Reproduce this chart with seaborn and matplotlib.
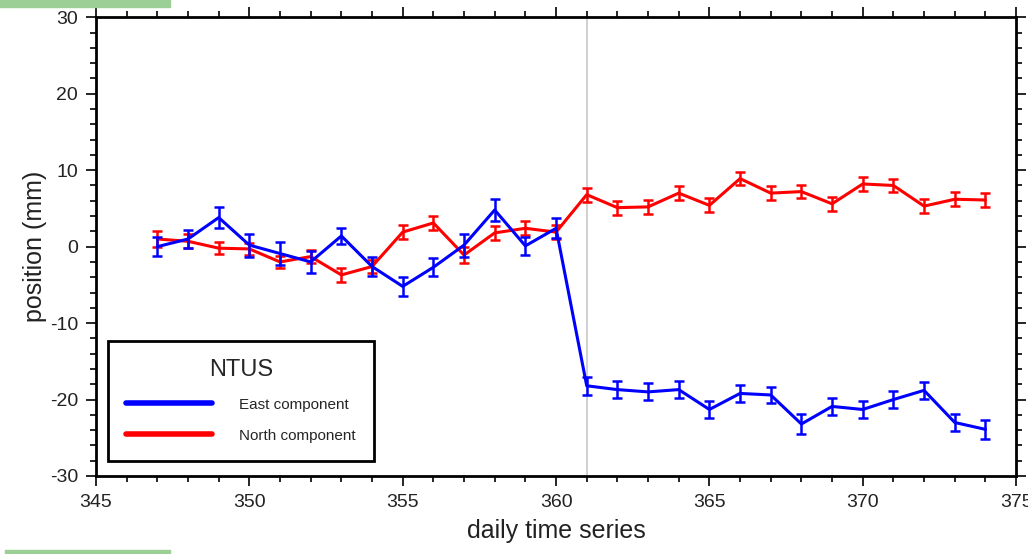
import numpy as np
import pandas as pd
import seaborn as sns
import matplotlib.pyplot as plt
from matplotlib.ticker import MultipleLocator
from matplotlib.patches import Rectangle

sns.set_style("ticks")
plt.rcParams['font.family'] = ['Liberation Sans', 'DejaVu Sans']
plt.rcParams['axes.unicode_minus'] = False

# daily positions of station NTUS (mm)
days = list(range(347, 375))
east = [0.0, 1.0, 3.8, 0.2, -0.9, -2.0, 1.4, -2.6, -5.2, -2.7, 0.2, 4.8, 0.1, 2.4,
        -18.2, -18.7, -19.0, -18.7, -21.3, -19.2, -19.4, -23.2, -20.9, -21.3, -20.0, -18.8, -23.0, -23.9]
east_err = [1.2, 1.2, 1.4, 1.5, 1.5, 1.4, 1.0, 1.2, 1.2, 1.2, 1.5, 1.4, 1.2, 1.3,
            1.2, 1.1, 1.1, 1.1, 1.1, 1.1, 1.1, 1.3, 1.1, 1.1, 1.1, 1.1, 1.1, 1.2]
north = [1.0, 0.7, -0.2, -0.3, -2.0, -1.3, -3.7, -2.6, 1.9, 3.1, -1.1, 1.8, 2.4, 1.9,
         6.8, 5.1, 5.2, 7.0, 5.4, 8.9, 7.0, 7.2, 5.6, 8.2, 8.0, 5.3, 6.2, 6.1]
north_err = [1.0, 0.9, 0.8, 0.8, 0.8, 0.9, 0.9, 0.9, 0.9, 0.9, 1.0, 0.9, 0.9, 0.9,
             0.9, 0.9, 0.9, 0.9, 0.9, 0.9, 0.9, 0.9, 0.9, 0.9, 0.9, 0.9, 0.9, 0.9]
event_day = 361

df = pd.DataFrame({"day": days, "east": east, "east_err": east_err,
                   "north": north, "north_err": north_err})

fig = plt.figure(figsize=(10.28, 5.54), dpi=100)
ax = fig.add_axes([0.0934, 0.1408, 0.895, 0.828])

ax.axvline(event_day, color="#c8c8c8", lw=1.2, zorder=1)

sns.lineplot(data=df, x="day", y="north", color="#ff0000", lw=2.2, ax=ax,
             label="North component", zorder=3)
ax.errorbar(df["day"], df["north"], yerr=df["north_err"], fmt="none",
            ecolor="#ff0000", elinewidth=1.8, capsize=3.5, capthick=1.8, zorder=3)
sns.lineplot(data=df, x="day", y="east", color="#0000ff", lw=2.2, ax=ax,
             label="East component", zorder=4)
ax.errorbar(df["day"], df["east"], yerr=df["east_err"], fmt="none",
            ecolor="#0000ff", elinewidth=1.8, capsize=3.5, capthick=1.8, zorder=4)

ax.set_xlim(345, 375)
ax.set_ylim(-30, 30)
ax.xaxis.set_major_locator(MultipleLocator(5))
ax.xaxis.set_minor_locator(MultipleLocator(1))
ax.yaxis.set_major_locator(MultipleLocator(10))
ax.yaxis.set_minor_locator(MultipleLocator(2))
ax.tick_params(which="both", direction="out", top=True, right=True, width=1.2, color="black")
ax.tick_params(which="major", length=7, labelsize=14, pad=6, labelcolor="#222222")
ax.tick_params(which="minor", length=4)
ax.tick_params(axis="x", labeltop=False)
ax.tick_params(axis="y", labelright=False)
for s in ax.spines.values():
    s.set_linewidth(2)
    s.set_color("black")

ax.set_xlabel("daily time series", fontsize=18, labelpad=6, color="#222222")
ax.set_ylabel("position (mm)", fontsize=18, labelpad=2, color="#222222")

handles, labels = ax.get_legend_handles_labels()
order = [labels.index("East component"), labels.index("North component")]
leg = ax.legend([handles[i] for i in order], [labels[i] for i in order],
                title="NTUS", loc="lower left", bbox_to_anchor=(0.013, 0.033),
                fontsize=11, title_fontsize=17, handlelength=5.6, handletextpad=1.8,
                borderpad=1.2, labelspacing=1.1, fancybox=False, framealpha=1,
                edgecolor="black", borderaxespad=0)
leg.get_frame().set_linewidth(2)
for ln in leg.get_lines():
    ln.set_linewidth(4)

# page decorations from the source image
fig.patches.append(Rectangle((0, 0.987), 0.165, 0.013, transform=fig.transFigure,
                             color="#9ccf96", zorder=0))
fig.patches.append(Rectangle((0.005, 0), 0.16, 0.008, transform=fig.transFigure,
                             color="#9ccf96", zorder=0))

fig.savefig("out.png", dpi=100)
